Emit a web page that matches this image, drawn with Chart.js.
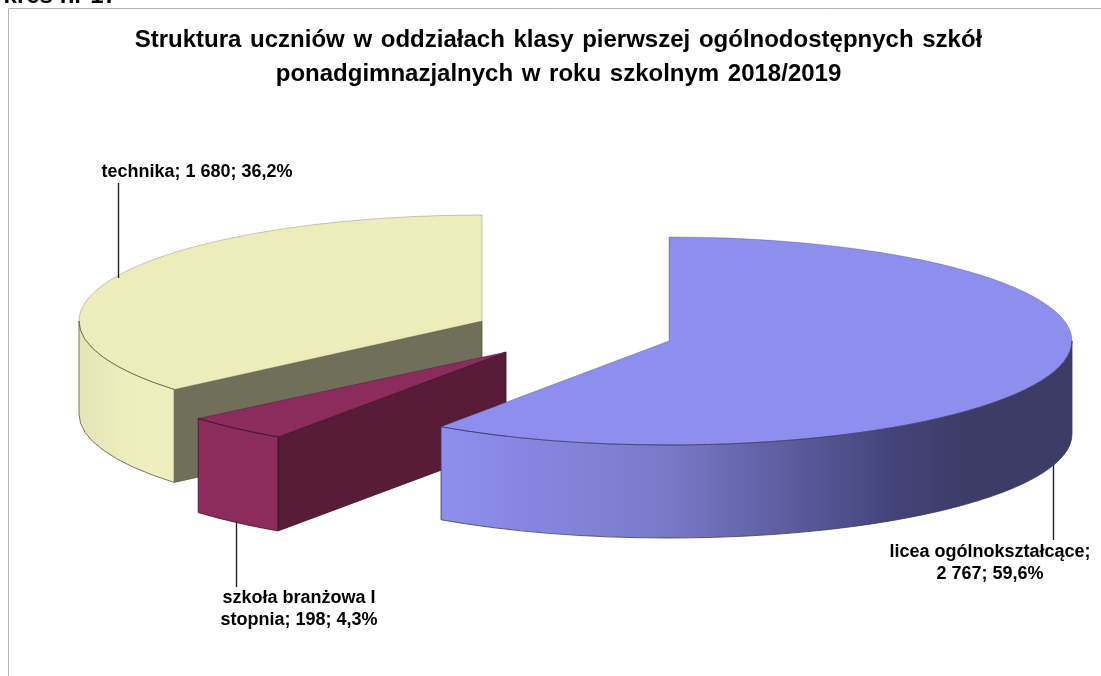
<!DOCTYPE html>
<html lang="pl">
<head>
<meta charset="utf-8">
<title>Struktura uczniów</title>
<script src="https://cdn.jsdelivr.net/npm/chart.js@4"></script>
<style>
html, body { margin: 0; padding: 0; background: #fff; overflow: hidden; }
#wrap { position: relative; width: 1101px; height: 676px; }
</style>
</head>
<body>
<div id="wrap"><canvas id="pie"></canvas></div>
<script>
// Data
const categories = ['licea ogólnokształcące', 'szkoła branżowa I stopnia', 'technika'];
const values = [2767, 198, 1680];
const chartTitle = [
    'Struktura uczniów w oddziałach klasy pierwszej ogólnodostępnych szkół',
    'ponadgimnazjalnych w roku szkolnym 2018/2019'
];
const pageHeading = 'Wykres nr 17';

// Styles and layout
const fontFamily = "'Liberation Sans', Arial, sans-serif";
const topColors = ['#8e8eef', '#8b2c5c', '#ededbc'];
const cutColors = ['#3c3c68', '#581c38', '#70705a'];
const lineColors = ['#3a3a66', '#3a1026', '#5c5c44'];
const wallStops = [
    [[0, '#8e8eef'], [0.35, '#7a7aca'], [0.72, '#43437a'], [0.84, '#3c3c66'], [1, '#3c3c66']],
    [[0, '#8b2c5c'], [1, '#8b2c5c']],
    [[0, '#e4e4b8'], [0.6, '#eeeebe'], [1, '#eeeebe']]
];
const pieCenter = { x: 580, y: 340 };
const explode = [{ dx: 89, dy: 1 }, { dx: -74, dy: 12 }, { dx: -98, dy: -19 }];
const drawOrder = [2, 1, 0];
const radiusX = 403;
const radiiY = [104, 103, 106];
const depths = [93, 94, 93];
const labelFont = `bold 18px ${fontFamily}`;
const labelBoxes = [
    { x: 990, y: 552, maxWidth: 210, line: [1053, 465, 1053, 540] },
    { x: 299, y: 598, maxWidth: 180, line: [236, 521, 236, 587] },
    { x: 197, y: 172, maxWidth: 300, line: [118, 183, 118, 278] }
];

const formatInteger = (value) => String(value).replace(/\B(?=(\d{3})+$)/g, ' ');
const total = values.reduce((a, b) => a + b, 0);
const formatPercent = (value) => (value / total * 100).toFixed(1).replace('.', ',') + '%';

const wrapText = (ctx, text, maxWidth) => {
    const lines = [];
    let current = '';
    text.split(' ').forEach((word) => {
        const next = current ? current + ' ' + word : word;
        if (current && ctx.measureText(next).width > maxWidth) {
            lines.push(current);
            current = word;
        } else {
            current = next;
        }
    });
    lines.push(current);
    return lines;
};

// Tilted pie: the angles come from the pie controller, only the drawing changes
class TiltedPieController extends Chart.PieController {
    draw() {
        const ctx = this.chart.ctx;
        const arcs = this.getMeta().data;
        drawOrder.forEach((i) => {
            const arc = arcs[i];
            const cx = pieCenter.x + explode[i].dx;
            const cy = pieCenter.y + explode[i].dy;
            const radiusY = radiiY[i];
            const depth = depths[i];
            const start = arc.startAngle;
            const end = arc.endAngle;
            ctx.save();
            ctx.lineWidth = 0.8;
            ctx.lineJoin = 'round';
            ctx.strokeStyle = lineColors[i];

            // cut faces turned towards the viewer
            [[start, Math.cos(start) < -1e-6], [end, Math.cos(end) > 1e-6]].forEach(([angle, visible]) => {
                if (!visible) return;
                const ex = cx + Math.cos(angle) * radiusX;
                const ey = cy + Math.sin(angle) * radiusY;
                ctx.beginPath();
                ctx.moveTo(cx, cy);
                ctx.lineTo(ex, ey);
                ctx.lineTo(ex, ey + depth);
                ctx.lineTo(cx, cy + depth);
                ctx.closePath();
                ctx.fillStyle = cutColors[i];
                ctx.fill();
                ctx.stroke();
            });

            // outer wall, only the front half of the rim
            const from = Math.max(start, 0);
            const to = Math.min(end, Math.PI);
            if (to > from) {
                const x0 = cx + Math.cos(to) * radiusX;
                const x1 = cx + Math.cos(from) * radiusX;
                const gradient = ctx.createLinearGradient(Math.min(x0, x1), 0, Math.max(x0, x1), 0);
                wallStops[i].forEach(([stop, color]) => gradient.addColorStop(stop, color));
                ctx.beginPath();
                ctx.ellipse(cx, cy, radiusX, radiusY, 0, from, to);
                ctx.ellipse(cx, cy + depth, radiusX, radiusY, 0, to, from, true);
                ctx.closePath();
                ctx.fillStyle = gradient;
                ctx.fill();
            }

            // top face is the library's own arc, squashed into place
            ctx.save();
            ctx.translate(cx, cy);
            ctx.scale(radiusX / arc.outerRadius, radiusY / arc.outerRadius);
            ctx.translate(-arc.x, -arc.y);
            arc.draw(ctx);
            ctx.restore();

            // faint outline round the top, hard line only along the front rim
            ctx.save();
            ctx.globalAlpha = 0.4;
            ctx.beginPath();
            ctx.moveTo(cx, cy);
            ctx.ellipse(cx, cy, radiusX, radiusY, 0, start, end);
            ctx.closePath();
            ctx.stroke();
            ctx.restore();
            if (to > from) {
                ctx.beginPath();
                ctx.ellipse(cx, cy, radiusX, radiusY, 0, from, to);
                ctx.stroke();
                ctx.beginPath();
                ctx.ellipse(cx, cy + depth, radiusX, radiusY, 0, from, to);
                ctx.stroke();
                ctx.beginPath();
                [from, to].forEach((angle) => {
                    const ex = cx + Math.cos(angle) * radiusX;
                    const ey = cy + Math.sin(angle) * radiusY;
                    ctx.moveTo(ex, ey);
                    ctx.lineTo(ex, ey + depth);
                });
                ctx.stroke();
            }
            ctx.restore();
        });
    }
}
TiltedPieController.id = 'tiltedPie';
TiltedPieController.defaults = Chart.PieController.defaults;
TiltedPieController.overrides = Chart.PieController.overrides;
Chart.register(TiltedPieController);

const framePlugin = {
    id: 'frame',
    beforeDraw(chart) {
        const ctx = chart.ctx;
        ctx.save();
        ctx.strokeStyle = '#b4b4b4';
        ctx.lineWidth = 1;
        ctx.beginPath();
        ctx.moveTo(8.5, 676);
        ctx.lineTo(8.5, 8.5);
        ctx.lineTo(1101, 8.5);
        ctx.stroke();
        ctx.fillStyle = '#000';
        ctx.font = `bold 24px ${fontFamily}`;
        ctx.textAlign = 'right';
        ctx.textBaseline = 'alphabetic';
        ctx.fillText(pageHeading, 117, 3);
        ctx.restore();
        ctx.wordSpacing = '2px';
    },
    afterDatasetsDraw(chart) {
        const ctx = chart.ctx;
        ctx.save();
        ctx.wordSpacing = '0px';
        ctx.font = labelFont;
        ctx.fillStyle = '#000';
        ctx.textAlign = 'center';
        ctx.textBaseline = 'middle';
        categories.forEach((name, i) => {
            const box = labelBoxes[i];
            const text = `${name}; ${formatInteger(values[i])}; ${formatPercent(values[i])}`;
            wrapText(ctx, text, box.maxWidth).forEach((line, n) => {
                ctx.fillText(line, box.x, box.y + n * 22);
            });
            ctx.beginPath();
            ctx.moveTo(box.line[0] + 0.5, box.line[1]);
            ctx.lineTo(box.line[2] + 0.5, box.line[3]);
            ctx.strokeStyle = '#222';
            ctx.lineWidth = 1.4;
            ctx.stroke();
        });
        ctx.restore();
    }
};

new Chart(document.getElementById('pie'), {
    type: 'tiltedPie',
    data: {
        labels: categories,
        datasets: [{ data: values, backgroundColor: topColors, borderWidth: 0 }]
    },
    options: {
        responsive: true,
        maintainAspectRatio: false,
        animation: false,
        layout: { padding: { left: 16 } },
        plugins: {
            legend: { display: false },
            tooltip: { enabled: false },
            title: {
                display: true,
                text: chartTitle,
                color: '#000',
                font: { family: fontFamily, size: 24, weight: 'bold', lineHeight: 1.4 },
                padding: { top: 24, bottom: 10 }
            }
        }
    },
    plugins: [framePlugin]
});
</script>
</body>
</html>
